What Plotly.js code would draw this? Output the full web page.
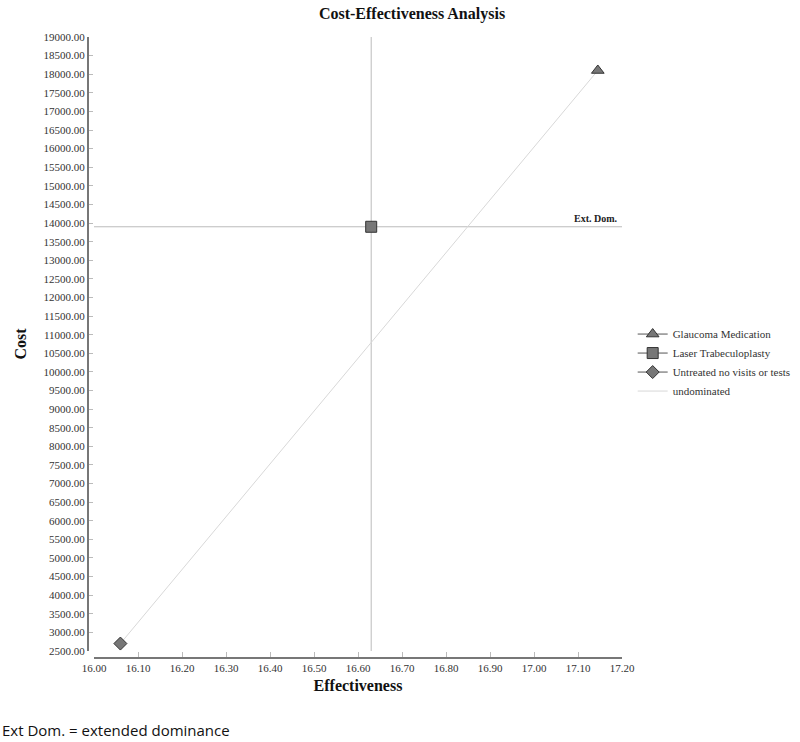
<!DOCTYPE html>
<html>
<head>
<meta charset="utf-8">
<script src="https://cdn.plot.ly/plotly-3.0.1.min.js"></script>
<style>
	html, body { margin: 0; padding: 0; background: #fff; }
	#chart { width: 800px; height: 742px; }
</style>
</head>
<body>
<div id="chart"></div>
<script>
(function () {

	'use strict';

	// strategies (effectiveness, cost)
	const strategies = ['Glaucoma Medication', 'Laser Trabeculoplasty', 'Untreated no visits or tests'];
	const effectiveness = [17.145, 16.63, 16.06];
	const cost = [18100, 13900, 2700];
	const symbols = ['triangle-up', 'square', 'diamond'];
	const sizes = [11, 11, 10];

	// undominated frontier: untreated -> medication
	const undominatedIdx = [2, 0];

	// extended dominance crosshair on laser
	const extDomIdx = 1;
	const extDomLabel = 'Ext. Dom.';

	const xRange = [16.0, 17.2];
	const yRange = [2500, 19000];

	const serif = '"Liberation Serif", "Times New Roman", serif';

	/**
	* one trace per strategy
	*/
	const traces = strategies.map(( name, i ) => ({
		x: [ effectiveness[i] ],
		y: [ cost[i] ],
		name: name,
		type: 'scatter',
		mode: 'lines+markers',
		legendrank: i + 1,
		line: { color: '#555', width: 1 },
		marker: {
			symbol: symbols[i],
			size: sizes[i],
			color: '#777',
			line: { color: '#333', width: 1 }
		},
		hovertemplate: name + '<br>%{x:.2f}, %{y:.2f}<extra></extra>'
	}));

	const undominated = {
		x: undominatedIdx.map( i => effectiveness[i] ),
		y: undominatedIdx.map( i => cost[i] ),
		name: 'undominated',
		type: 'scatter',
		mode: 'lines',
		legendrank: 10,
		line: { color: '#d8d8d8', width: 1 },
		hoverinfo: 'skip'
	};

	// crosshair lines through the ext. dom. point
	const crossV = {
		x: [ effectiveness[extDomIdx], effectiveness[extDomIdx] ],
		y: [ yRange[0], yRange[1] ],
		type: 'scatter', mode: 'lines',
		line: { color: '#bbb', width: 1 },
		showlegend: false, hoverinfo: 'skip'
	};
	const crossH = {
		x: [ xRange[0] - 0.013, xRange[1] + 0.005 ],
		y: [ cost[extDomIdx], cost[extDomIdx] ],
		type: 'scatter', mode: 'lines',
		line: { color: '#bbb', width: 1 },
		showlegend: false, hoverinfo: 'skip', cliponaxis: false
	};

	const data = [ crossV, crossH, undominated ].concat( traces );

	const layout = {
		width: 800,
		height: 742,
		paper_bgcolor: '#fff',
		plot_bgcolor: '#fff',
		margin: { l: 88, r: 178, t: 37, b: 84, autoexpand: false },
		font: { family: serif, size: 11, color: '#333' },
		title: {
			text: '<b>Cost-Effectiveness Analysis</b>',
			font: { family: serif, size: 16, color: '#111' },
			xref: 'container', x: 0.515, xanchor: 'center',
			yref: 'container', y: 0.99, yanchor: 'top'
		},
		xaxis: {
			range: xRange,
			domain: [ 6 / 534, 1 ],
			anchor: 'free', position: 0,
			dtick: 0.1, tick0: 16,
			tickformat: '.2f',
			ticks: 'inside', ticklen: 5, tickcolor: '#bbb',
			showline: true, linecolor: '#777', linewidth: 2,
			showgrid: false, zeroline: false,
			tickfont: { family: serif, size: 11, color: '#333' },
			title: { text: '<b>Effectiveness</b>', font: { family: serif, size: 16, color: '#111' }, standoff: 6 }
		},
		yaxis: {
			range: yRange,
			domain: [ 7 / 621, 1 ],
			anchor: 'free', position: 0,
			dtick: 500, tick0: 2500,
			tickformat: '.2f',
			ticks: 'inside', ticklen: 4, tickcolor: '#bbb',
			showline: true, linecolor: '#777', linewidth: 2,
			showgrid: false, zeroline: false,
			tickfont: { family: serif, size: 11, color: '#333' },
			title: { text: '<b>Cost</b>', font: { family: serif, size: 16, color: '#111' }, standoff: 12 }
		},
		showlegend: true,
		legend: {
			x: 1.02, xanchor: 'left',
			y: 0.545, yanchor: 'top',
			font: { family: serif, size: 11, color: '#333' },
			tracegroupgap: 0,
			itemwidth: 30,
			bgcolor: 'rgba(0,0,0,0)'
		},
		annotations: [
			{
				x: xRange[1], y: cost[extDomIdx],
				xref: 'x', yref: 'y',
				text: '<b>' + extDomLabel + '</b>',
				showarrow: false,
				xanchor: 'right', yanchor: 'bottom',
				xshift: -2, yshift: 1,
				font: { family: serif, size: 10, color: '#222' }
			},
			{
				x: 0, y: 0,
				xref: 'paper', yref: 'paper',
				text: 'Ext Dom. = extended dominance',
				showarrow: false,
				xanchor: 'left', yanchor: 'bottom',
				xshift: -88, yshift: -84,
				font: { family: '"Open Sans", "Noto Sans", sans-serif', size: 15, color: '#111' }
			}
		]
	};

	Plotly.newPlot( 'chart', data, layout, { displayModeBar: false, responsive: false } );

})();
</script>
</body>
</html>
